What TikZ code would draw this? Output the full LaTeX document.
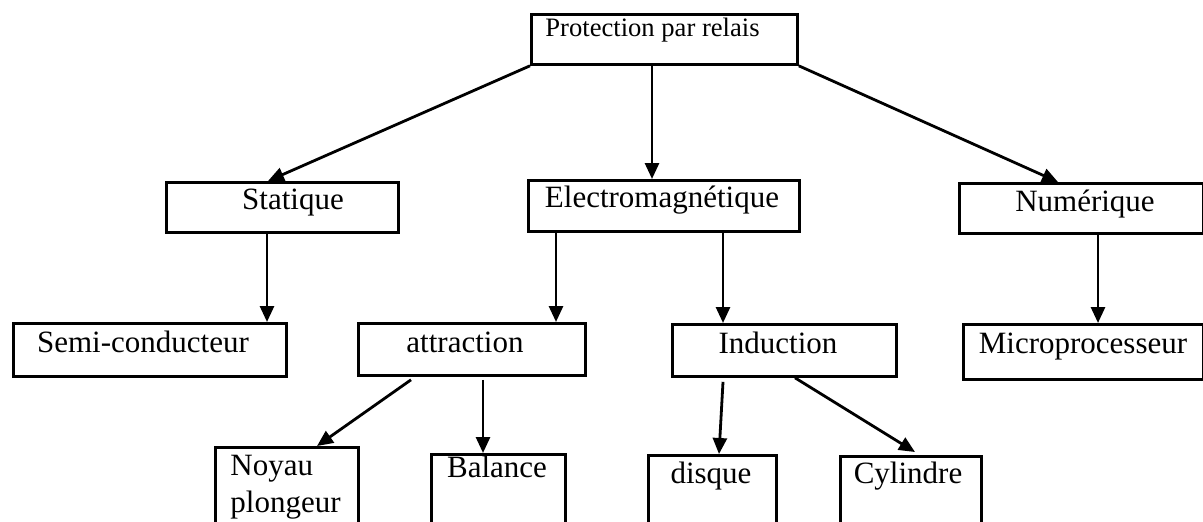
\documentclass[tikz,border=0pt]{standalone}
\usepackage{fontspec}
\setmainfont{Liberation Serif}
\usetikzlibrary{arrows.meta,calc}
\begin{document}
\begin{tikzpicture}[x=0.5pt,y=-0.5pt,
  box/.style={draw, line width=1.4pt, inner sep=0pt, anchor=north west},
  lbl/.style={anchor=base, inner sep=0pt, font=\fontsize{15.5}{18}\selectfont},
  arr/.style={-{Triangle[length=8pt,width=7pt]}, line width=1.4pt}]
\useasboundingbox (0,0) rectangle (1203,521);
\clip (0,0) rectangle (1203,521);
% boxes
\node[box, minimum width=133pt, minimum height=25pt] (top) at (530,13) {};
\node[box, minimum width=116pt, minimum height=25pt] (stat) at (165,181) {};
\node[box, minimum width=135.5pt, minimum height=25.5pt] (elec) at (527,179) {};
\node[box, minimum width=122pt, minimum height=25pt] (num) at (958,182) {};
\node[box, minimum width=136.5pt, minimum height=26.5pt] (semi) at (12,322) {};
\node[box, minimum width=113.5pt, minimum height=26pt] (attr) at (357,322) {};
\node[box, minimum width=112pt, minimum height=26pt] (ind) at (671,323) {};
\node[box, minimum width=120pt, minimum height=27.5pt] (micro) at (962,323) {};
\node[box, minimum width=71.5pt, minimum height=50pt] (noy) at (214,446) {};
\node[box, minimum width=67pt, minimum height=50pt] (bal) at (430,453) {};
\node[box, minimum width=64pt, minimum height=50pt] (disq) at (647,454) {};
\node[box, minimum width=70.5pt, minimum height=50pt] (cyl) at (839,455) {};
% texts
\node[lbl, anchor=base west, font=\fontsize{13.3}{16}\selectfont] (ttop) at (545,36) {Protection par relais};
\node[lbl] (tstat) at (293,209) {Statique};
\node[lbl] (telec) at (662,207) {Electromagnétique};
\node[lbl] (tnum) at (1085,211) {Numérique};
\node[lbl] (tsemi) at (143,352) {Semi-conducteur};
\node[lbl] (tattr) at (465,352) {attraction};
\node[lbl] (tind) at (778,353) {Induction};
\node[lbl] (tmicro) at (1083,353) {Microprocesseur};
\node[lbl, anchor=base west] (tnoy1) at (230,475) {Noyau};
\node[lbl, anchor=base west] (tnoy2) at (230,512) {plongeur};
\node[lbl] (tbal) at (497,477) {Balance};
\node[lbl] (tdisq) at (711,483) {disque};
\node[lbl] (tcyl) at (908,483) {Cylindre};
% arrows
\draw[arr] (top.south west) -- ($(stat.north west)+(103,0)$);
\draw[arr] ($(top.south west)+(122,0)$) -- ($(elec.north west)+(125,0)$);
\draw[arr] (top.south east) -- ($(num.north west)+(100,0)$);
\draw[arr] ($(stat.south west)+(102,0)$) -- ($(semi.north west)+(255,0)$);
\draw[arr] ($(elec.south west)+(29,0)$) -- ($(attr.north west)+(199,0)$);
\draw[arr] ($(elec.south west)+(196,0)$) -- ($(ind.north west)+(52,0)$);
\draw[arr] ($(num.south west)+(140,0)$) -- ($(micro.north west)+(136,0)$);
\draw[arr] ($(attr.south west)+(54,3)$) -- ($(noy.north west)+(103,0)$);
\draw[arr] ($(attr.south west)+(126,3)$) -- ($(bal.north west)+(53,0)$);
\draw[arr] ($(ind.south west)+(52,4)$) -- ($(disq.north west)+(72,0)$);
\draw[arr] ($(ind.south west)+(124,0)$) -- ($(cyl.north west)+(76,-3)$);
\end{tikzpicture}
\end{document}
